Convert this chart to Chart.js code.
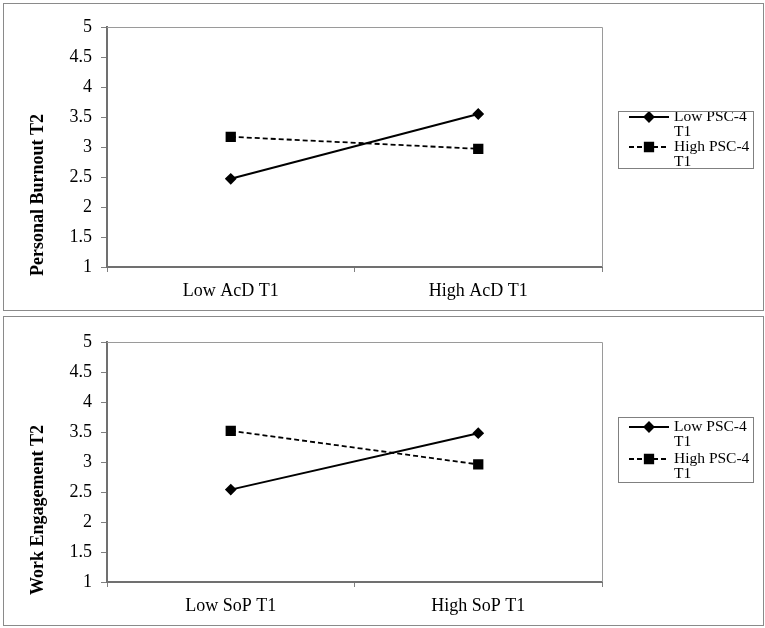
<!DOCTYPE html>
<html><head><meta charset="utf-8">
<script src="https://cdn.jsdelivr.net/npm/chart.js@4.4.0/dist/chart.umd.min.js"></script>
<style>
html,body{margin:0;padding:0;background:#fff;width:765px;height:628px;overflow:hidden}
.wrap{position:absolute;left:0;width:765px;height:314px}
.frame{position:absolute;border:1px solid #8a8a8a;pointer-events:none;box-sizing:border-box}
canvas{display:block}
</style></head><body>
<div class="wrap" style="top:0"><canvas id="c1" width="765" height="314" style="width:765px;height:314px"></canvas></div>
<div class="wrap" style="top:314px"><canvas id="c2" width="765" height="314" style="width:765px;height:314px"></canvas></div>
<div class="frame" style="left:3px;top:3px;width:761px;height:308px"></div>
<div class="frame" style="left:3px;top:316px;width:761px;height:310px"></div>
<script>
// ---- data ----
const categoriesTop = ['Low AcD T1', 'High AcD T1'];
const burnoutLowPSC = [2.47, 3.55];
const burnoutHighPSC = [3.17, 2.97];
const categoriesBottom = ['Low SoP T1', 'High SoP T1'];
const engagementLowPSC = [2.54, 3.48];
const engagementHighPSC = [3.52, 2.96];
const seriesNames = ['Low PSC-4 T1', 'High PSC-4 T1'];
const legendLines = [['Low PSC-4', 'T1'], ['High PSC-4', 'T1']];
const yTitles = ['Personal Burnout T2', 'Work Engagement T2'];
const yMin = 1, yMax = 5, yStep = 0.5;

const FONT = "'Liberation Serif', 'Times New Roman', serif";

const plotFrame = {
  id: 'plotFrame',
  afterDraw(chart) {
    const a = chart.chartArea, c = chart.ctx;
    c.save();
    c.strokeStyle = '#9a9a9a'; c.lineWidth = 1;
    c.beginPath();
    c.moveTo(a.left, a.top + 0.5); c.lineTo(a.right + 0.5, a.top + 0.5); c.lineTo(a.right + 0.5, a.bottom);
    c.stroke();
    c.restore();
  }
};

const sideTitle = {
  id: 'sideTitle',
  afterDraw(chart, args, opts) {
    const a = chart.chartArea, c = chart.ctx;
    c.save();
    c.translate(opts.x, (a.top + a.bottom) / 2 + opts.dy);
    c.rotate(-Math.PI / 2);
    c.font = 'bold 18px ' + FONT;
    c.fillStyle = '#000'; c.textAlign = 'center'; c.textBaseline = 'middle';
    c.fillText(opts.text, 0, 0);
    c.restore();
  }
};

const boxLegend = {
  id: 'boxLegend',
  afterDraw(chart, args, opts) {
    const c = chart.ctx;
    c.save();
    c.font = '15.5px ' + FONT;
    c.fillStyle = '#000'; c.textBaseline = 'middle'; c.textAlign = 'left';
    chart.data.datasets.forEach((ds, i) => {
      const rows = opts.rows[i];
      const y = rows[0];
      c.save();
      c.strokeStyle = ds.borderColor; c.lineWidth = ds.borderWidth;
      c.setLineDash(ds.borderDash || []);
      c.beginPath(); c.moveTo(opts.x + 11, y); c.lineTo(opts.x + 51, y); c.stroke();
      c.setLineDash([]);
      c.fillStyle = ds.pointBackgroundColor; c.strokeStyle = ds.pointBorderColor;
      Chart.helpers.drawPoint(c, {pointStyle: ds.pointStyle, radius: ds.pointRadius, rotation: 0, borderWidth: 1}, opts.x + 31, y);
      c.restore();
      legendLines[i].forEach((t, k) => c.fillText(t, opts.x + 56, rows[k]));
    });
    c.strokeStyle = '#808080'; c.lineWidth = 1;
    c.strokeRect(opts.x + 0.5, opts.y + 0.5, opts.w, opts.h);
    c.restore();
  }
};

function makeChart(id, cats, low, high, title, xAxisH, topPad, legendOpts) {
  return new Chart(document.getElementById(id), {
    type: 'line',
    data: {
      labels: cats,
      datasets: [
        {label: seriesNames[0], data: low, borderColor: '#000', borderWidth: 2, pointStyle: 'rectRot',
         pointRadius: 4.5, pointBackgroundColor: '#000', pointBorderColor: '#000', pointHoverRadius: 4.5, tension: 0},
        {label: seriesNames[1], data: high, borderColor: '#000', borderWidth: 1.8, borderDash: [5, 3], pointStyle: 'rect',
         pointRadius: 6, pointBackgroundColor: '#000', pointBorderColor: '#000', pointHoverRadius: 6, tension: 0}
      ]
    },
    options: {
      responsive: false, animation: false, devicePixelRatio: 1,
      layout: {padding: {left: 0, right: 163, top: topPad, bottom: 0}},
      plugins: {
        legend: {display: false}, tooltip: {enabled: false},
        sideTitle: {text: title, x: 38, dy: 48},
        boxLegend: legendOpts
      },
      scales: {
        x: {
          type: 'category', offset: true,
          grid: {display: true, offset: true, drawOnChartArea: false, drawTicks: true, tickLength: 5, color: '#808080', lineWidth: 1},
          border: {display: true, color: '#707070', width: 2},
          ticks: {color: '#000', font: {family: FONT, size: 18}, padding: 8, maxRotation: 0},
          afterFit(s) { s.height = xAxisH; }
        },
        y: {
          min: yMin, max: yMax,
          grid: {display: true, drawOnChartArea: false, drawTicks: true, tickLength: 6, color: '#808080', lineWidth: 1},
          border: {display: true, color: '#707070', width: 2},
          ticks: {stepSize: yStep, color: '#000', font: {family: FONT, size: 18}, padding: 9,
                  callback: (v) => String(Number(v))},
          afterFit(s) { s.width = 107; }
        }
      }
    },
    plugins: [plotFrame, sideTitle, boxLegend]
  });
}

makeChart('c1', categoriesTop, burnoutLowPSC, burnoutHighPSC, yTitles[0], 47, 27,
  {x: 618, y: 111, w: 135, h: 57, rows: [[117, 132], [147, 162]]});
makeChart('c2', categoriesBottom, engagementLowPSC, engagementHighPSC, yTitles[1], 46, 28,
  {x: 618, y: 103, w: 135, h: 65, rows: [[113, 128], [145, 160]]});
</script>
</body></html>
